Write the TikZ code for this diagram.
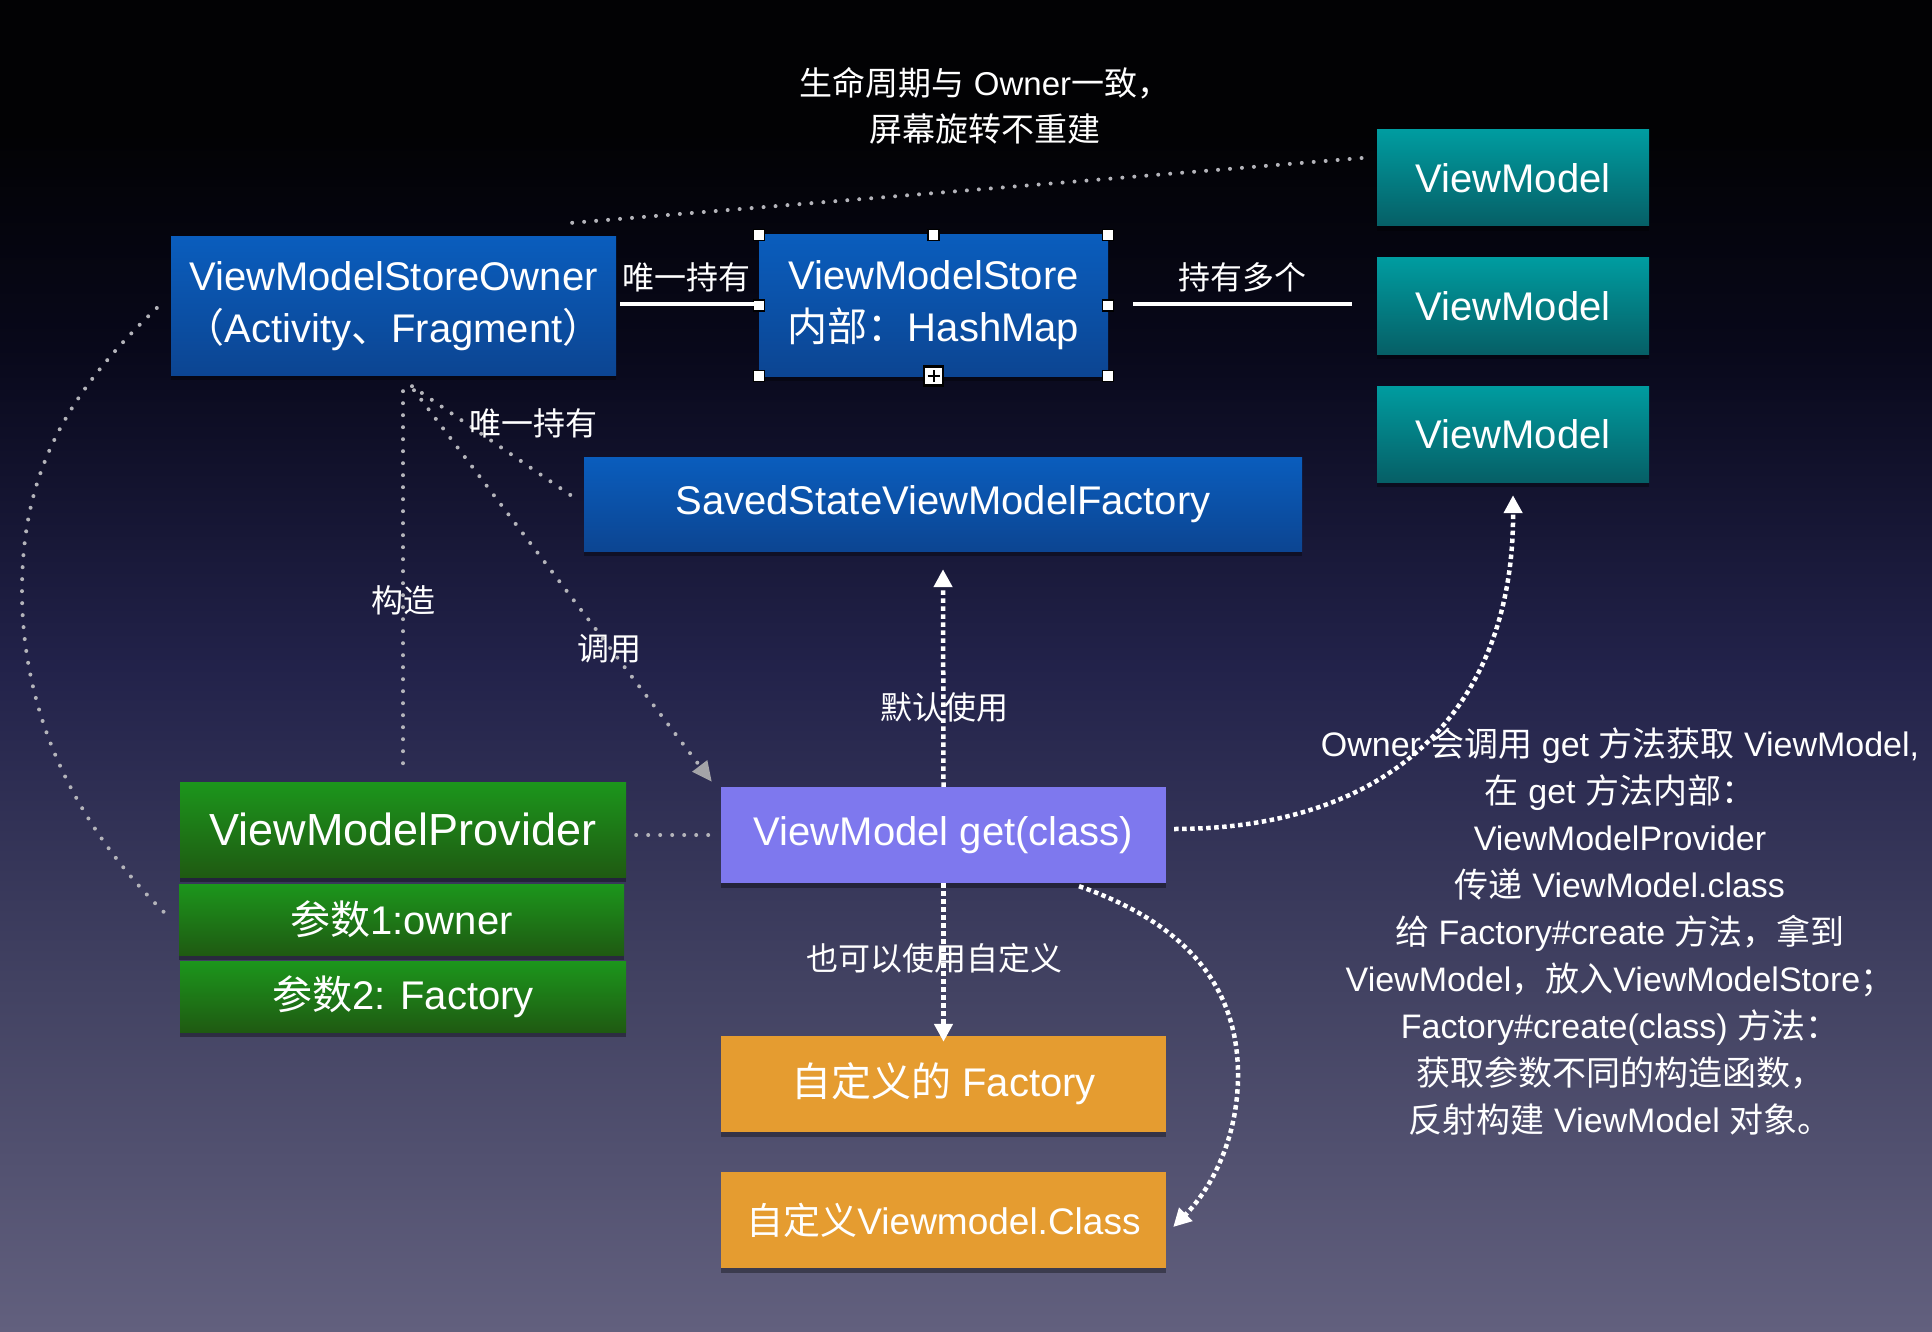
\documentclass[tikz,border=0pt]{standalone}
\usepackage{fontspec}
\setmainfont{Liberation Sans}
\newfontfamily\cjk{Noto Sans CJK SC}
\usetikzlibrary{shadows,arrows.meta,calc}
\newcommand\fsz[2]{\fontsize{#1}{#2}\selectfont}
\definecolor{bgtop}{HTML}{020204}
\definecolor{bgA}{HTML}{08081A}
\definecolor{bgmid}{HTML}{22224A}
\definecolor{bgB}{HTML}{424262}
\definecolor{bgbot}{HTML}{62607E}
\definecolor{blueT}{HTML}{0A5DBD}
\definecolor{blueB}{HTML}{0C4592}
\definecolor{tealT}{HTML}{009CA0}
\definecolor{tealB}{HTML}{065F66}
\definecolor{greenT}{HTML}{1C961C}
\definecolor{greenB}{HTML}{1F5A12}
\definecolor{violet}{HTML}{7E78EE}
\definecolor{orng}{HTML}{E59C30}
\definecolor{dotgray}{HTML}{B4B4BA}
\definecolor{arrgray}{HTML}{A4A4A8}
\pgfdeclareverticalshading{bgshade}{100bp}{color(0bp)=(bgbot); color(25bp)=(bgbot); color(38bp)=(bgB); color(50bp)=(bgmid); color(62bp)=(bgA); color(70bp)=(bgtop); color(75bp)=(bgtop); color(100bp)=(bgtop)}
\begin{document}
\begin{tikzpicture}[x=1pt,y=1pt,
  boxbase/.style={inner sep=0pt, align=center, text=white, font=\fsz{40}{52},
    drop shadow={shadow xshift=0pt, shadow yshift=-5pt, opacity=0.35, fill=black}},
  bluebox/.style={boxbase, top color=blueT, bottom color=blueB},
  tealbox/.style={boxbase, top color=tealT, bottom color=tealB, minimum width=272pt, minimum height=96pt},
  greenbox/.style={boxbase, top color=greenT, bottom color=greenB},
  violetbox/.style={boxbase, fill=violet, minimum width=445pt, minimum height=96pt},
  orangebox/.style={boxbase, fill=orng, minimum width=445pt, minimum height=96pt},
  lbl/.style={text=white, inner sep=0pt, font=\cjk\fsz{32}{40}},
  wline/.style={draw=white, line width=4pt},
  graydots/.style={draw=dotgray, line width=4pt, line cap=round, dash pattern=on 0pt off 12pt},
  wdots/.style={draw=white, line width=4.5pt, dash pattern=on 4.5pt off 3.5pt},
  wtip/.style={-{Triangle[length=18pt,width=18pt,fill=white]}},
  gtip/.style={-{Triangle[length=20pt,width=18pt,color=arrgray,fill=arrgray]}},
  handle/.style={draw=black, fill=white, line width=1.2pt, minimum size=11pt, inner sep=0pt},
  plushandle/.style={draw=black, fill=white, line width=2.5pt, minimum size=19pt, inner sep=0pt}
]
\fill[shading=bgshade] (0,0) rectangle (1932,-1332);
\useasboundingbox (0,0) rectangle (1932,-1332);

% title
\node[text=white, align=center, inner sep=0pt, font=\fsz{33}{46}] (title) at (985,-106)
  {{\cjk 生命周期与} Owner{\cjk 一致，}\\{\cjk 屏幕旋转不重建}};

% boxes
\node[bluebox, minimum width=445pt, minimum height=138pt] (owner) at (393.5,-306)
  {ViewModelStoreOwner\\{\cjk （}Activity{\cjk 、}Fragment{\cjk ）}};
\node[bluebox, minimum width=349pt, minimum height=141pt] (store) at (933.5,-305.5)
  {ViewModelStore\\{\cjk 内部：}HashMap};
\node[tealbox] (vm1) at (1513,-178) {ViewModel};
\node[tealbox] (vm2) at (1513,-306) {ViewModel};
\node[tealbox] (vm3) at (1513,-434) {ViewModel};
\node[bluebox, minimum width=718pt, minimum height=94pt] (factory) at (943,-504)
  {SavedStateViewModelFactory};
\node[greenbox, minimum width=446pt, minimum height=95pt, font=\fsz{45}{52}] (provider) at (403,-829.5)
  {ViewModelProvider};
\node[greenbox, minimum width=445pt, minimum height=71pt] (p1) at (401.5,-919.5)
  {{\cjk 参数}1:owner};
\node[greenbox, minimum width=446pt, minimum height=71pt] (p2) at (403,-996.5)
  {{\cjk 参数}2: Factory};
\node[violetbox] (get) at (943.5,-835) {ViewModel get(class)};
\node[orangebox] (cf) at (943.5,-1084) {{\cjk 自定义的} Factory};
\node[orangebox, font=\fsz{37}{44}] (cc) at (943.5,-1220) {{\cjk 自定义}Viewmodel.Class};

% selection handles on store
\foreach \a in {north west,north,north east,west,east,south west,south east}
  \node[handle] at (store.\a) {};
\node[plushandle] (ph) at (store.south) {};
\draw[black, line width=2pt] ([xshift=-6pt]ph.center) -- ([xshift=6pt]ph.center);
\draw[black, line width=2pt] ([yshift=-6pt]ph.center) -- ([yshift=6pt]ph.center);

% solid connectors
\draw[wline] ([xshift=4pt,yshift=2pt]owner.east) -- ([xshift=-2pt,yshift=1.5pt]store.west);
\draw[wline] ([xshift=25pt,yshift=1.5pt]store.east) -- ([xshift=-25pt,yshift=2pt]vm2.west);
\node[lbl] (l1) at (686,-277) {唯一持有};
\node[lbl] (l2) at (1242,-277) {持有多个};

% gray dotted connectors
\coordinate (t1) at ($(owner.north east)+(-44,14)$);
\coordinate (t2) at ($(vm1.west)+(-15,20)$);
\draw[graydots] (t1) -- (t2);

\coordinate (c1) at ($(owner.south)+(9.5,-16)$);
\coordinate (c2) at ($(provider.north)+(0,18)$);
\draw[graydots] (c1) -- (c2);

\coordinate (d1) at ($(owner.south)+(18.5,-11)$);
\coordinate (d2) at ($(factory.west)+(-12,8)$);
\draw[graydots] (d1) -- (d2);

\coordinate (e1) at ($(owner.south)+(20.5,-15)$);
\coordinate (e2) at ($(get.north west)+(-9,5)$);
\draw[graydots, gtip] (e1) -- (e2);

\coordinate (f1) at ($(provider.east)+(10,-5.5)$);
\coordinate (f2) at ($(get.west)+(-9,0)$);
\draw[graydots] (f1) -- (f2);

\coordinate (a1) at ($(owner.west)+(-14,-2)$);
\coordinate (a2) at ($(p1.west)+(-13,5.5)$);
\draw[graydots] (a1) .. controls (60,-400) and (22,-480) .. (22,-591)
  .. controls (22,-720) and (80,-830) .. (a2);

\node[lbl] (l3) at (533,-423) {唯一持有};
\node[lbl] (l4) at (403,-600) {构造};
\node[lbl] (l5) at (609,-649) {调用};

% white dotted arrows
\draw[wdots, wtip] (get.north) -- ([yshift=-18pt]factory.south);
\draw[wdots, wtip] (get.south) -- ([yshift=-6pt]cf.north);
\draw[wdots, wtip] ([xshift=8pt,yshift=6pt]get.east) .. controls (1400,-829) and (1514,-700)
  .. ([yshift=-13pt]vm3.south);
\draw[wdots, wtip] ([xshift=135.5pt,yshift=-3pt]get.south) .. controls (1190,-925) and (1238,-990)
  .. (1238,-1075) .. controls (1238,-1140) and (1210,-1190) .. ([xshift=7pt,yshift=-7pt]cc.east);

\node[lbl] (l6) at (944,-707) {默认使用};
\node[lbl] (l7) at (934,-958) {也可以使用自定义};

% explanation text
\node[text=white, align=center, inner sep=0pt, font=\fsz{34}{47}] (note) at (1620,-932)
  {Owner {\cjk 会调用} get {\cjk 方法获取} ViewModel,\\
   {\cjk 在} get {\cjk 方法内部：}\\
   ViewModelProvider\\
   {\cjk 传递} ViewModel.class\\
   {\cjk 给} Factory\#create {\cjk 方法，拿到}\\
   ViewModel{\cjk ，放入}ViewModelStore{\cjk ；}\\
   Factory\#create(class) {\cjk 方法：}\\
   {\cjk 获取参数不同的构造函数，}\\
   {\cjk 反射构建} ViewModel {\cjk 对象。}};
\end{tikzpicture}
\end{document}
